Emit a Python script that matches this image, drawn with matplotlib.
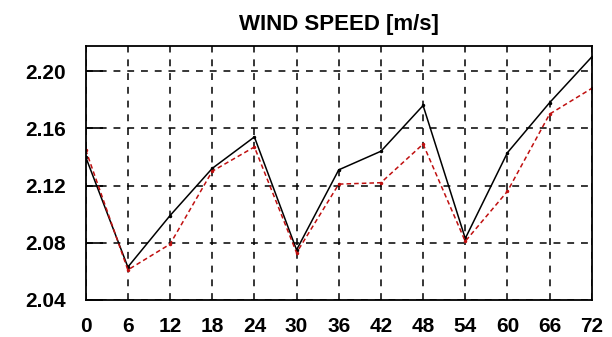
import matplotlib
matplotlib.use("Agg")
import matplotlib.pyplot as plt

# forecast hours and wind speed values
hours = [0, 6, 12, 18, 24, 30, 36, 42, 48, 54, 60, 66, 72]
speed_black = [2.140, 2.063, 2.099, 2.132, 2.154, 2.075, 2.131, 2.144, 2.176, 2.083, 2.143, 2.178, 2.210]
speed_red = [2.145, 2.061, 2.079, 2.130, 2.147, 2.073, 2.121, 2.122, 2.149, 2.081, 2.116, 2.170, 2.188]
yticks = [2.04, 2.08, 2.12, 2.16, 2.20]

plt.rcParams['font.family'] = ['Liberation Sans', 'DejaVu Sans']

fig = plt.figure(figsize=(6.12, 3.37), dpi=100)
ax = fig.add_axes([0.140, 0.110, 0.827, 0.753])

ax.plot(hours, speed_black, color="black", lw=1.1, marker="o", ms=1.5)
ax.plot(hours, speed_red, color="#c01010", lw=1.1, ls=(0, (3, 2)), marker="o", ms=1.5)

ax.set_xlim(0, 72)
ax.set_ylim(2.04, 2.2175)
ax.set_xticks(hours)
ax.set_yticks(yticks)
ax.set_yticklabels(["%.2f" % v for v in yticks])
ax.grid(True, color="black", ls=(0, (4.5, 4.5)), lw=1.1)
ax.tick_params(axis="y", direction="in", length=12, width=1.2, labelsize=15, pad=14)
ax.tick_params(axis="x", direction="in", length=0, labelsize=15, pad=12)
for lab in ax.get_xticklabels() + ax.get_yticklabels():
    lab.set_fontweight("bold")
for s in ax.spines.values():
    s.set_linewidth(1.3)

ax.set_title("WIND SPEED [m/s]", fontsize=16, fontweight="bold", pad=12)

fig.savefig("out.png", dpi=100)
